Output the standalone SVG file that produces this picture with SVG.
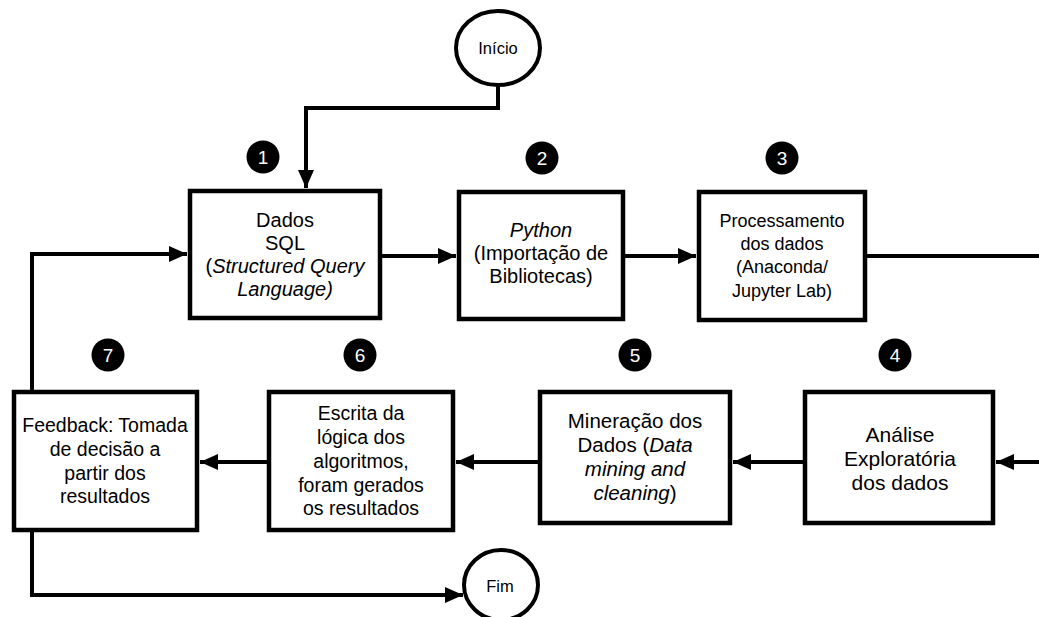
<svg xmlns="http://www.w3.org/2000/svg" width="1039" height="617" viewBox="0 0 1039 617">
<style>
.box{fill:#fff;stroke:#000;stroke-width:4.5}
.term{fill:#fff;stroke:#000;stroke-width:4}
.t{font-family:"Liberation Sans",Arial,sans-serif;fill:#000;text-anchor:middle}
.badge{fill:#000}
.bn{font-family:"Liberation Sans",Arial,sans-serif;fill:#fff;font-size:19px;text-anchor:middle}
.c{fill:none;stroke:#000;stroke-width:4;stroke-linejoin:miter}
</style>
<defs>
<marker id="ah" markerUnits="userSpaceOnUse" markerWidth="20" markerHeight="16" refX="18" refY="8" orient="auto">
<path d="M0,0 L18,8 L0,16 Z" fill="#000"/>
</marker>
</defs>
<rect width="1039" height="617" fill="#fff"/>
<g id="connectors">
<path class="c" d="M498,85 V108 H306 V188" marker-end="url(#ah)"/>
<path class="c" d="M382,256 H456" marker-end="url(#ah)"/>
<path class="c" d="M625,256 H696" marker-end="url(#ah)"/>
<path class="c" d="M867,256 H1039"/>
<path class="c" d="M1039,462 H996" marker-end="url(#ah)"/>
<path class="c" d="M803,462 H733" marker-end="url(#ah)"/>
<path class="c" d="M538,462 H456" marker-end="url(#ah)"/>
<path class="c" d="M267,462 H200" marker-end="url(#ah)"/>
<path class="c" d="M32,390 V254 H187" marker-end="url(#ah)"/>
<path class="c" d="M32,532 V595 H463" marker-end="url(#ah)"/>
</g>
<g id="inicio">
<ellipse class="term" cx="498" cy="48" rx="42" ry="37"/>
<text class="t" x="498" y="54" font-size="16.5">Início</text>
</g>
<g id="fim">
<ellipse class="term" cx="501" cy="585" rx="37" ry="35"/>
<text class="t" x="500" y="592" font-size="16.5">Fim</text>
</g>
<g id="step1">
<circle class="badge" cx="263" cy="157" r="16.5"/>
<text class="bn" x="263" y="164">1</text>
<rect class="box" x="190" y="191" width="190" height="127"/>
<text class="t" font-size="20"><tspan x="285" y="227">Dados</tspan><tspan x="285" y="250">SQL</tspan><tspan x="285" y="273">(<tspan font-style="italic">Structured Query</tspan></tspan><tspan x="285" y="296" font-style="italic">Language)</tspan></text>
</g>
<g id="step2">
<circle class="badge" cx="542" cy="158" r="16.5"/>
<text class="bn" x="542" y="165">2</text>
<rect class="box" x="459" y="192" width="164" height="127"/>
<text class="t" font-size="20"><tspan x="541" y="237" font-style="italic">Python</tspan><tspan x="541" y="260">(Importação de</tspan><tspan x="541" y="283">Bibliotecas)</tspan></text>
</g>
<g id="step3">
<circle class="badge" cx="782" cy="158" r="16.5"/>
<text class="bn" x="782" y="165">3</text>
<rect class="box" x="699" y="192" width="166" height="128"/>
<text class="t" font-size="18"><tspan x="782" y="227">Processamento</tspan><tspan x="782" y="250">dos dados</tspan><tspan x="782" y="273">(Anaconda/</tspan><tspan x="782" y="297">Jupyter Lab)</tspan></text>
</g>
<g id="step4">
<circle class="badge" cx="895" cy="355" r="16.5"/>
<text class="bn" x="895" y="362">4</text>
<rect class="box" x="805" y="392" width="188" height="131"/>
<text class="t" font-size="21"><tspan x="900" y="442">Análise</tspan><tspan x="900" y="466">Exploratória</tspan><tspan x="900" y="490">dos dados</tspan></text>
</g>
<g id="step5">
<circle class="badge" cx="635" cy="355" r="16.5"/>
<text class="bn" x="635" y="362">5</text>
<rect class="box" x="540" y="392" width="190" height="131"/>
<text class="t" font-size="20.5"><tspan x="635" y="428">Mineração dos</tspan><tspan x="635" y="452">Dados (<tspan font-style="italic">Data</tspan></tspan><tspan x="635" y="476" font-style="italic">mining and</tspan><tspan x="635" y="500"><tspan font-style="italic">cleaning</tspan>)</tspan></text>
</g>
<g id="step6">
<circle class="badge" cx="360" cy="355" r="16.5"/>
<text class="bn" x="360" y="362">6</text>
<rect class="box" x="269" y="392" width="184" height="138"/>
<text class="t" font-size="19.5"><tspan x="361" y="420">Escrita da</tspan><tspan x="361" y="444">lógica dos</tspan><tspan x="361" y="468">algoritmos,</tspan><tspan x="361" y="492">foram gerados</tspan><tspan x="361" y="515">os resultados</tspan></text>
</g>
<g id="step7">
<circle class="badge" cx="108" cy="355" r="16.5"/>
<text class="bn" x="108" y="362">7</text>
<rect class="box" x="14" y="392" width="183" height="138"/>
<text class="t" font-size="19.5"><tspan x="105" y="432">Feedback: Tomada</tspan><tspan x="105" y="456">de decisão a</tspan><tspan x="105" y="480">partir dos</tspan><tspan x="105" y="503">resultados</tspan></text>
</g>
</svg>
